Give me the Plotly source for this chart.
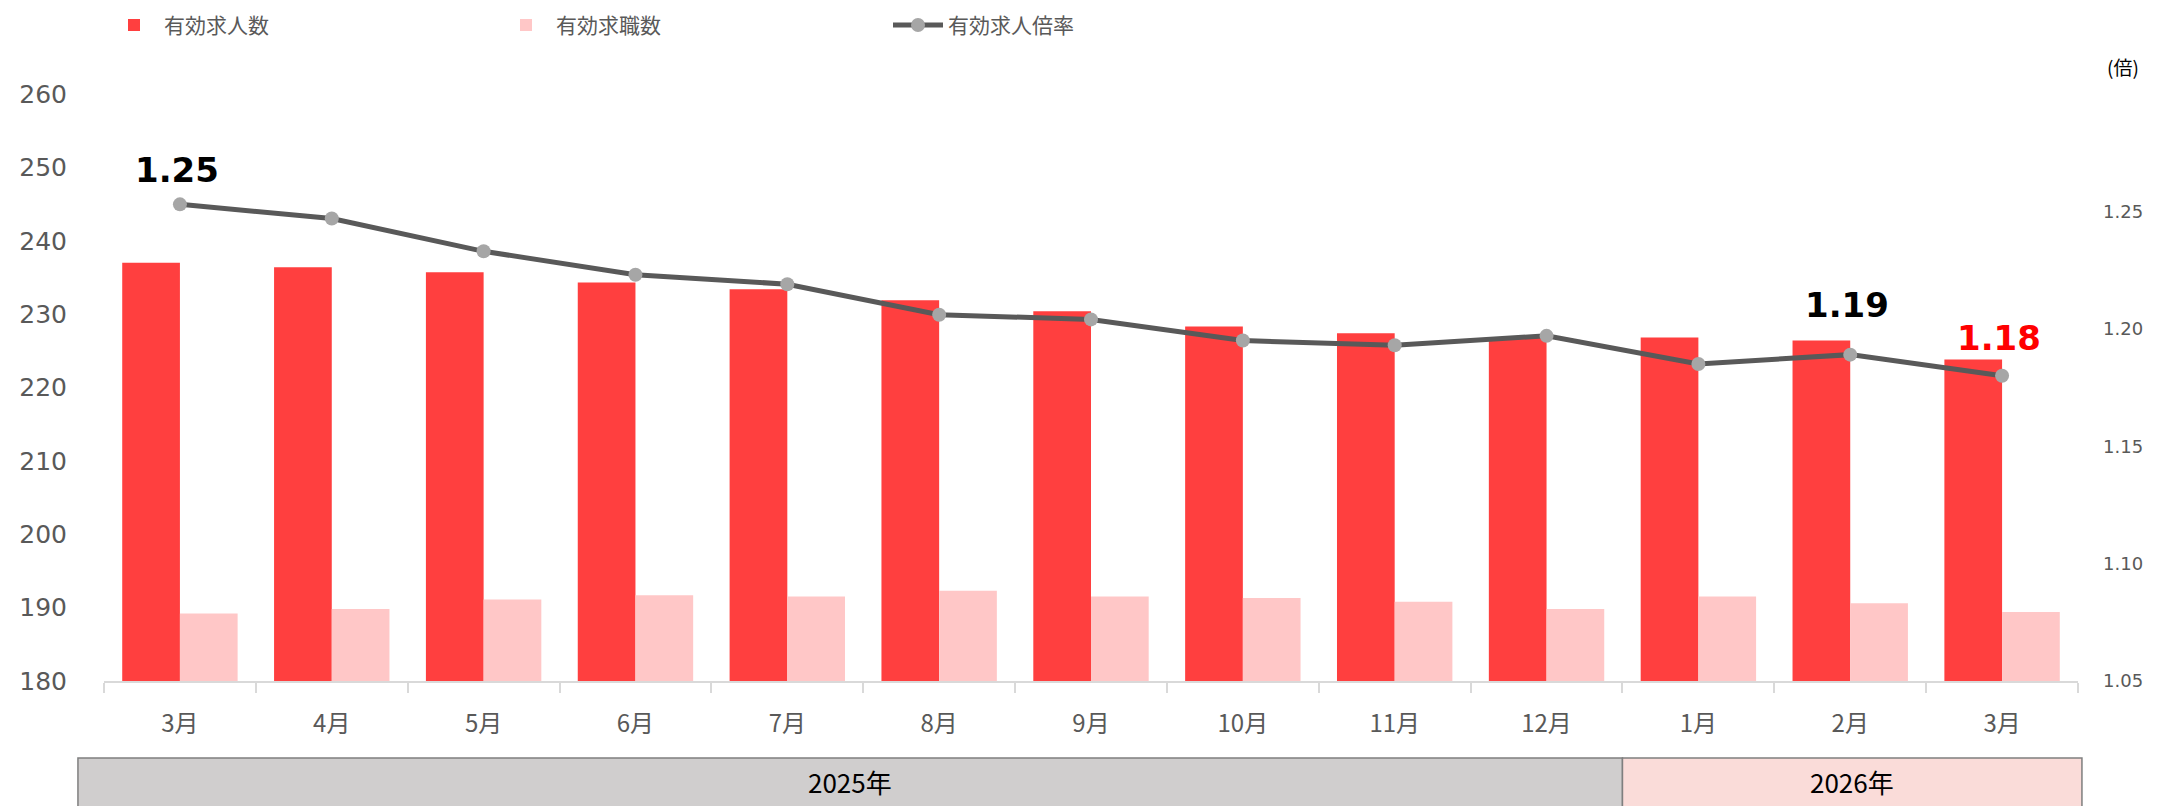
import plotly.graph_objects as go

# ---- data ----
months = ["3月", "4月", "5月", "6月", "7月", "8月", "9月", "10月", "11月", "12月", "1月", "2月", "3月"]
years = ["2025年", "2025年", "2025年", "2025年", "2025年", "2025年", "2025年", "2025年", "2025年", "2025年",
         "2026年", "2026年", "2026年"]
openings = [237.0, 236.4, 235.7, 234.3, 233.4, 231.9, 230.4, 228.3, 227.4, 226.8, 226.8, 226.4, 223.8]   # 有効求人数
seekers = [189.2, 189.8, 191.1, 191.7, 191.5, 192.3, 191.5, 191.3, 190.8, 189.8, 191.5, 190.6, 189.4]    # 有効求職数
ratio = [1.253, 1.247, 1.233, 1.223, 1.219, 1.206, 1.204, 1.195, 1.193, 1.197, 1.185, 1.189, 1.180]      # 有効求人倍率
label_points = [0, 11, 12]
label_texts = ["1.25", "1.19", "1.18"]
left_ticks = [180, 190, 200, 210, 220, 230, 240, 250, 260]
right_ticks = [1.05, 1.10, 1.15, 1.20, 1.25]

# ---- styles ----
RED = "#FF3F3F"
PINK = "#FFC7C7"
LINE = "#595959"
MARK = "#A6A6A6"
TXT = "#595959"
NUM_FONT = "DejaVu Sans"
JP_FONT = "Noto Sans CJK JP"

cats = [y + m for y, m in zip(years, months)]
n = len(cats)

fig = go.Figure()
fig.add_trace(go.Bar(x=cats, y=openings, name="有効求人数", marker=dict(color=RED, line=dict(width=0))))
fig.add_trace(go.Bar(x=cats, y=seekers, name="有効求職数", marker=dict(color=PINK, line=dict(width=0))))
fig.add_trace(go.Scatter(x=cats, y=ratio, name="有効求人倍率", yaxis="y2", mode="lines+markers",
                         line=dict(color=LINE, width=5),
                         marker=dict(color=MARK, size=14, line=dict(width=0))))

# data labels
label_shift = [34, 50, 38]
label_colors = ["#000000", "#000000", "#FF0000"]
for i, t, s, c in zip(label_points, label_texts, label_shift, label_colors):
    fig.add_annotation(x=cats[i], y=ratio[i], yref="y2", text="<b>" + t + "</b>", showarrow=False,
                       xanchor="center", yanchor="middle",
                       yshift=s, xshift=-3, font=dict(family=NUM_FONT, size=34, color=c))

# year bands below the axis (x converted from category index to paper fraction)
groups = []
for i, y in enumerate(years):
    if groups and groups[-1][0] == y:
        groups[-1][2] = i
    else:
        groups.append([y, i, i])
band_fill = {"2025年": "#D0CECE", "2026年": "#FADCD9"}
for gi, (y, a, b) in enumerate(groups):
    x0 = a / n - (0.0132 if gi == 0 else 0)
    x1 = (b + 1) / n + (0.002 if gi == len(groups) - 1 else 0)
    fig.add_shape(type="rect", xref="paper", yref="paper", x0=x0, x1=x1, y0=-0.131, y1=-0.25,
                  fillcolor=band_fill[y], line=dict(color="#7F7F7F", width=1.5), layer="below")
    fig.add_annotation(x=(x0 + x1) / 2, xref="paper", y=-0.172, yref="paper", text=y, showarrow=False,
                       xanchor="center", yanchor="middle",
                       font=dict(family=JP_FONT, size=26, color="#000000"))

# right axis unit
fig.add_annotation(x=1.0228, y=1.047, xref="paper", yref="paper", text="(倍)", showarrow=False,
                   xanchor="center", yanchor="middle",
                   font=dict(family=JP_FONT, size=19, color="#000000"))

fig.update_layout(
    width=2164, height=798,
    margin=dict(l=96, r=94, t=86, b=125, autoexpand=False),
    paper_bgcolor="white", plot_bgcolor="white",
    barmode="group", bargap=0.24, bargroupgap=0,
    showlegend=True,
    legend=dict(orientation="h", x=0.0, xanchor="left", y=1.117, yanchor="middle",
                entrywidth=327, entrywidthmode="pixels", itemwidth=50,
                font=dict(family=JP_FONT, size=21, color=TXT), bgcolor="rgba(0,0,0,0)"),
    xaxis=dict(type="category", tickmode="array", tickvals=cats, ticktext=months,
               range=[-0.5, n - 0.5], autorange=False,
               showline=True, linecolor="#D9D9D9", linewidth=2, automargin=False,
               ticks="outside", tickson="boundaries", ticklen=10, tickcolor="#D9D9D9", tickwidth=2,
               ticklabelstandoff=20, showgrid=False,
               tickfont=dict(family=JP_FONT, size=24, color=TXT)),
    yaxis=dict(range=[180, 260], tickvals=left_ticks, showgrid=False, zeroline=False, automargin=False,
               showline=False, ticks="", ticklabelstandoff=36,
               tickfont=dict(family=NUM_FONT, size=25, color=TXT)),
    yaxis2=dict(range=[1.05, 1.30], tickvals=right_ticks, overlaying="y", side="right", automargin=False,
                showgrid=False, zeroline=False, showline=False, ticks="", ticklabelstandoff=24,
                tickformat=".2f",
                tickfont=dict(family=NUM_FONT, size=18, color=TXT)),
)

fig.write_html("out.html")
